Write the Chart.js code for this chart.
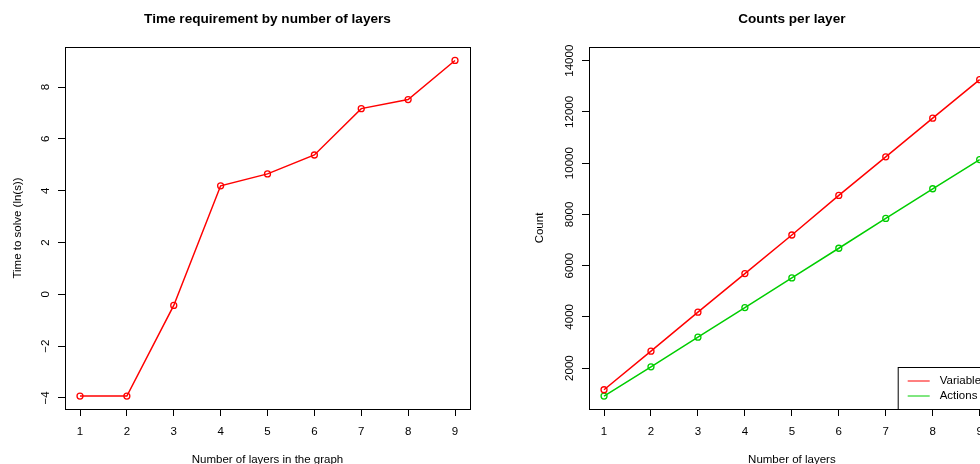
<!DOCTYPE html>
<html>
<head>
<meta charset="utf-8">
<script src="https://cdn.jsdelivr.net/npm/chart.js@4"></script>
<style>
    html, body { margin: 0; padding: 0; background: #fff; overflow: hidden; width: 980px; height: 464px; }
    canvas { position: absolute; top: 0; }
    #timeChart { left: 0; }
    #countChart { left: 490px; }
</style>
</head>
<body>
<canvas id="timeChart" width="490" height="464"></canvas>
<canvas id="countChart" width="520" height="464"></canvas>
<script>
// Veriler
const layers = [1, 2, 3, 4, 5, 6, 7, 8, 9];
const solveTime = [-3.93, -3.93, -0.43, 4.19, 4.65, 5.38, 7.17, 7.52, 9.03];
const variableCounts = [1155, 2662, 4183, 5688, 7196, 8740, 10245, 11755, 13260];
const actionCounts = [909, 2051, 3208, 4362, 5519, 6678, 7844, 9000, 10140];

const layerTicks = [1, 2, 3, 4, 5, 6, 7, 8, 9];
const timeTicks = [-4, -2, 0, 2, 4, 6, 8];
const countTicks = [2000, 4000, 6000, 8000, 10000, 12000, 14000];

Chart.defaults.font.family = '"Liberation Sans", Arial, Helvetica, sans-serif';
Chart.defaults.font.size = 11.5;
Chart.defaults.color = '#000';

// Kutu, başlık ve lejant çizen eklenti
const rStyle = {
    id: 'rStyle',
    afterDraw(chart, args, opts) {
        const { ctx, chartArea: a } = chart;
        ctx.save();
        ctx.strokeStyle = '#000';
        ctx.lineWidth = 1;
        ctx.strokeRect(Math.round(a.left) + 0.5, Math.round(a.top) + 0.5,
            Math.round(a.right - a.left), Math.round(a.bottom - a.top));

        ctx.fillStyle = '#000';
        ctx.font = 'bold 13.6px "Liberation Sans", Arial, sans-serif';
        ctx.textAlign = 'center';
        ctx.textBaseline = 'middle';
        ctx.fillText(opts.title, (a.left + a.right) / 2, 19);

        if (opts.legend) {
            const L = opts.legend;
            ctx.strokeRect(L.left + 0.5, L.top + 0.5, a.right - L.left, a.bottom - L.top);
            ctx.font = '11.5px "Liberation Sans", Arial, sans-serif';
            ctx.textAlign = 'left';
            chart.data.datasets.forEach((ds, i) => {
                const y = L.rowY[i];
                ctx.strokeStyle = ds.borderColor;
                ctx.beginPath();
                ctx.moveTo(L.left + 10, y);
                ctx.lineTo(L.left + 32, y);
                ctx.stroke();
                ctx.fillStyle = '#000';
                ctx.fillText(ds.label, L.left + 42, y);
            });
        }
        ctx.restore();
    }
};

function lineSet(label, values, color) {
    return {
        label: label,
        data: layers.map((x, i) => ({ x: x, y: values[i] })),
        borderColor: color,
        borderWidth: 1.5,
        pointRadius: 3,
        pointBorderWidth: 1.3,
        pointBorderColor: color,
        pointBackgroundColor: 'rgba(0,0,0,0)',
        fill: false,
        tension: 0
    };
}

function makeOptions(cfg) {
    return {
        responsive: false,
        animation: false,
        events: [],
        layout: { padding: { left: 0, top: 47, right: cfg.rightPad, bottom: 0 } },
        plugins: {
            legend: { display: false },
            tooltip: { enabled: false },
            rStyle: { title: cfg.title, legend: cfg.legend }
        },
        scales: {
            x: {
                type: 'linear',
                min: 0.68,
                max: 9.32,
                afterBuildTicks: s => { s.ticks = layerTicks.map(v => ({ value: v })); },
                afterFit: s => { s.height = 55; },
                grid: { drawOnChartArea: false, drawTicks: true, tickLength: 7, tickColor: '#000', tickWidth: 1 },
                border: { display: false },
                ticks: { padding: 9, color: '#000' },
                title: { display: true, text: cfg.xTitle, color: '#000', font: { size: 11.5, lineHeight: 0.8 }, padding: { top: 0, bottom: 0 } }
            },
            y: {
                type: 'linear',
                min: cfg.yMin,
                max: cfg.yMax,
                afterBuildTicks: s => { s.ticks = cfg.yTicks.map(v => ({ value: v })); },
                afterFit: s => { s.width = cfg.yWidth; },
                grid: { drawOnChartArea: false, drawTicks: true, tickLength: 7, tickColor: '#000', tickWidth: 1 },
                border: { display: false },
                ticks: {
                    minRotation: 90,
                    maxRotation: 90,
                    crossAlign: 'center',
                    padding: cfg.yPad,
                    color: '#000',
                    callback: v => String(v).replace('-', '\u2212')
                },
                title: { display: true, text: cfg.yTitle, color: '#000', font: { size: 11.5, lineHeight: 0.8 }, padding: { top: cfg.yTitlePad, bottom: 0 } }
            }
        }
    };
}

new Chart(document.getElementById('timeChart'), {
    type: 'line',
    data: { datasets: [lineSet('Time', solveTime, '#ff0000')] },
    options: makeOptions({
        title: 'Time requirement by number of layers',
        xTitle: 'Number of layers in the graph',
        yTitle: 'Time to solve (ln(s))',
        yMin: -4.43, yMax: 9.55, yTicks: timeTicks,
        yWidth: 65, yPad: 6, yTitlePad: 13, rightPad: 20
    }),
    plugins: [rStyle]
});

new Chart(document.getElementById('countChart'), {
    type: 'line',
    data: {
        datasets: [
            lineSet('Variables', variableCounts, '#ff0000'),
            lineSet('Actions', actionCounts, '#00cd00')
        ]
    },
    options: makeOptions({
        title: 'Counts per layer',
        xTitle: 'Number of layers',
        yTitle: 'Count',
        yMin: 403, yMax: 14534, yTicks: countTicks,
        yWidth: 99, yPad: -3.5, yTitlePad: 45, rightPad: 15.3,
        legend: { left: 407.7, top: 367, rowY: [381, 396] }
    }),
    plugins: [rStyle]
});
</script>
</body>
</html>
